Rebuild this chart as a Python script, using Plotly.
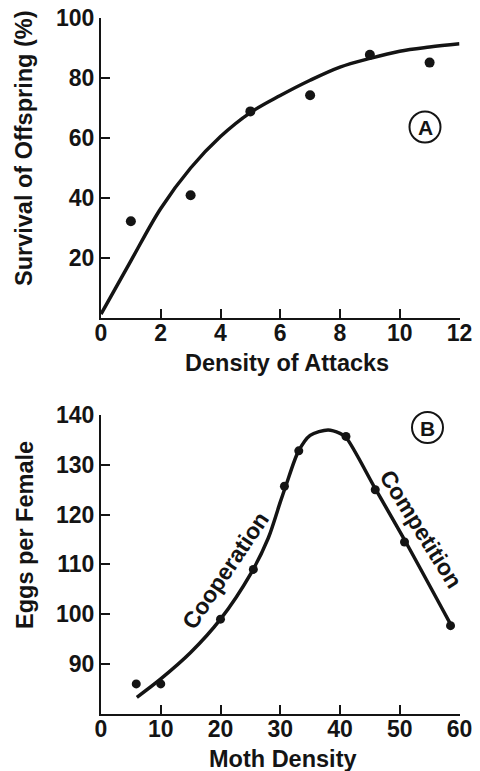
import plotly.graph_objects as go

# Panel A data
a_x = [1, 3, 5, 7, 9, 11]
a_y = [32.2, 40.9, 68.9, 74.3, 87.8, 85.2]
a_curve_x = [0, 1, 2, 3, 4, 5, 6, 7, 8, 9, 10, 11, 12]
a_curve_y = [1.2, 19, 36.5, 50, 60.5, 68.5, 74.2, 79.3, 83.7, 86.6, 89, 90.4, 91.5]
a_xticks = [0, 2, 4, 6, 8, 10, 12]
a_yticks = [20, 40, 60, 80, 100]

# Panel B data
b_x = [5.9, 10, 20, 25.5, 30.7, 33.1, 41, 45.9, 50.8, 58.5]
b_y = [86, 86, 99, 109, 125.7, 132.8, 135.7, 125, 114.5, 97.7]
b_curve_x = [6, 10, 15, 20, 25, 28, 30, 31, 33, 35, 38, 40, 41, 46, 51, 58.5]
b_curve_y = [83.3, 87, 92.3, 99, 108, 115.3, 122.5, 126, 132.6, 135.9, 137, 136.3, 135.5, 125, 114.5, 98]
b_xticks = [0, 10, 20, 30, 40, 50, 60]
b_yticks = [90, 100, 110, 120, 130, 140]

FONT = "Liberation Sans"
BLACK = "#141414"

# The page body has an 8px margin; the figure starts 8px in and runs to the window edge.
OFF = 8
W, H = 480 - OFF, 771 - OFF


def px_x(X):
    return (X - OFF) / W


def px_y(Y):
    return 1 - (Y - OFF) / H


fig = go.Figure()
fig.add_trace(go.Scatter(x=a_curve_x, y=a_curve_y, mode="lines",
                         line=dict(color=BLACK, width=3.5, shape="spline", smoothing=1),
                         xaxis="x", yaxis="y", hoverinfo="skip"))
fig.add_trace(go.Scatter(x=a_x, y=a_y, mode="markers",
                         marker=dict(color=BLACK, size=10),
                         xaxis="x", yaxis="y"))
fig.add_trace(go.Scatter(x=b_curve_x, y=b_curve_y, mode="lines",
                         line=dict(color=BLACK, width=3.5, shape="spline", smoothing=0.8),
                         xaxis="x2", yaxis="y2", hoverinfo="skip"))
fig.add_trace(go.Scatter(x=b_x, y=b_y, mode="markers",
                         marker=dict(color=BLACK, size=9),
                         xaxis="x2", yaxis="y2"))

xdom = [px_x(101), px_x(459.5)]
axis_common = dict(showgrid=False, zeroline=False, showline=True, linecolor=BLACK,
                   linewidth=2, ticks="inside", ticklen=9, tickwidth=2, tickcolor=BLACK,
                   automargin=False, ticklabeloverflow="allow",
                   tickfont=dict(family=FONT, size=23, color=BLACK, weight="bold"))

fig.update_layout(
    width=W, height=H,
    margin=dict(l=0, r=0, t=0, b=0, autoexpand=False),
    paper_bgcolor="white", plot_bgcolor="white",
    showlegend=False,
    font=dict(family=FONT, color=BLACK),
    xaxis=dict(domain=xdom, range=[0, 12], tickvals=a_xticks, anchor="y",
               ticklabelstandoff=-6, **axis_common),
    yaxis=dict(domain=[px_y(317.7), px_y(18.3)], range=[0, 100], tickvals=a_yticks,
               anchor="x", **axis_common),
    xaxis2=dict(domain=xdom, range=[0, 60], tickvals=b_xticks, anchor="y2",
                ticklabelstandoff=-6, **axis_common),
    yaxis2=dict(domain=[px_y(713.8), px_y(415)], range=[80, 140], tickvals=b_yticks,
                anchor="x2", **axis_common),
)


def label(text, x, y, angle=0, size=23.5):
    fig.add_annotation(text=f"<b>{text}</b>", x=px_x(x), y=px_y(y), xref="paper", yref="paper",
                       showarrow=False, textangle=angle,
                       font=dict(family=FONT, size=size, color=BLACK),
                       xanchor="center", yanchor="middle")


label("Survival of Offspring (%)", 24, 148, -90)
label("Density of Attacks", 287, 363)
label("Eggs per Female", 25, 535, -90)
label("Moth Density", 283, 759)
label("Cooperation", 225, 571, -56, 23)
label("Competition", 421, 529, 58, 23)

# Circled panel letters
for letter, cx, cy in [("A", 425, 127), ("B", 427.5, 427.5)]:
    r = 15.5
    fig.add_shape(type="circle", xref="paper", yref="paper",
                  x0=px_x(cx - r), x1=px_x(cx + r),
                  y0=px_y(cy + r), y1=px_y(cy - r),
                  line=dict(color=BLACK, width=2))
    label(letter, cx, cy + 0.5, 0, 21)

fig.write_html("out.html")
